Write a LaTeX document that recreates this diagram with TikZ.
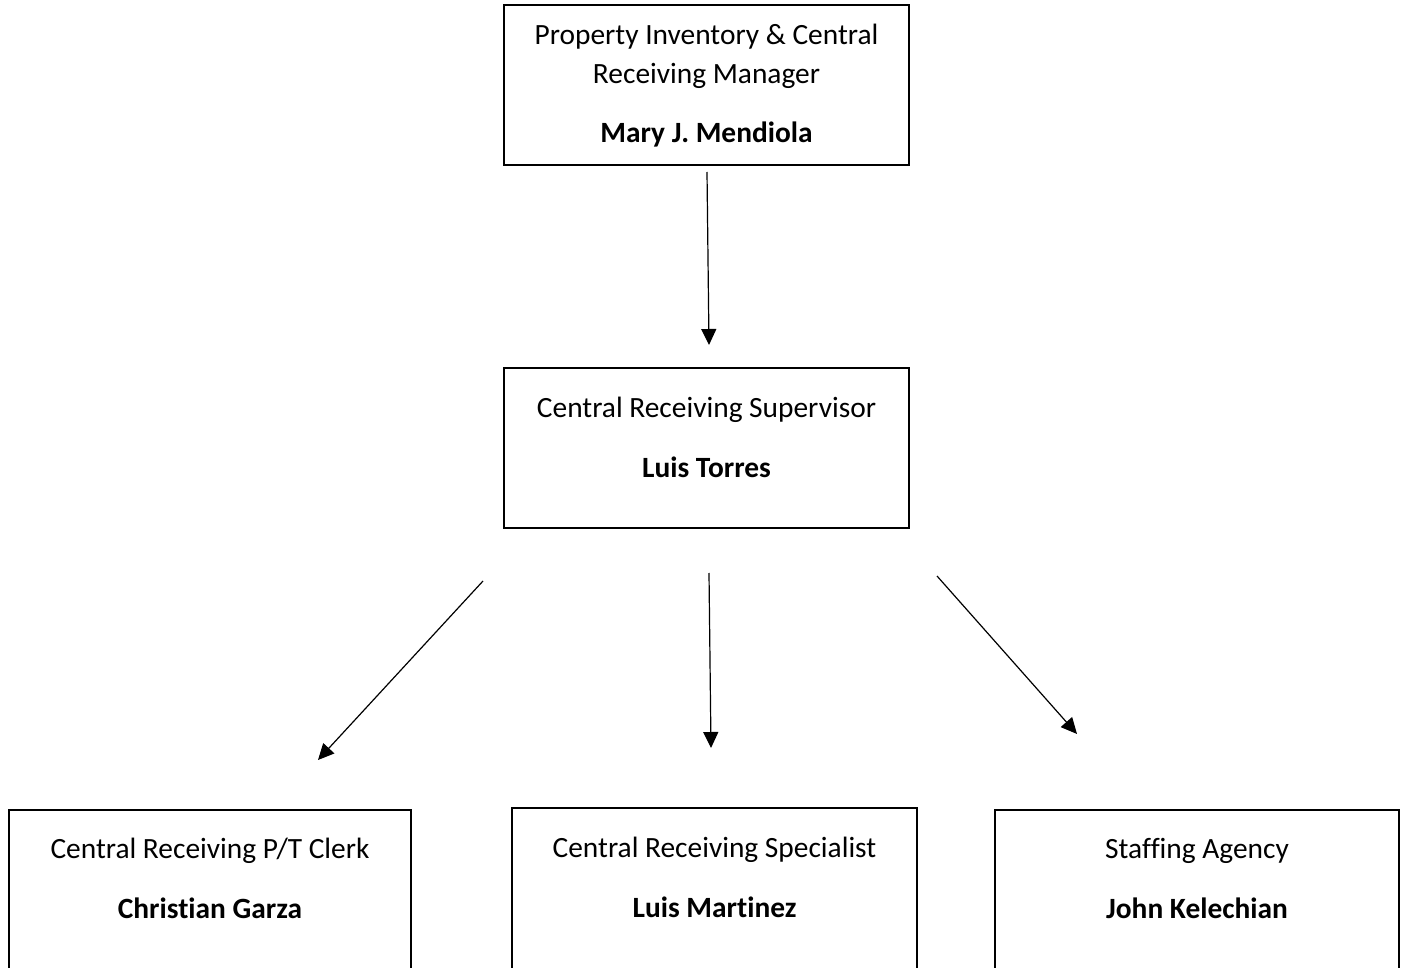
\documentclass[tikz,border=0pt]{standalone}
\usepackage{fontspec}
\setmainfont[Ligatures=NoCommon]{Carlito}
\usetikzlibrary{arrows.meta}
\begin{document}
\begin{tikzpicture}[x=1pt,y=-1pt,
  box/.style={draw,line width=2pt,rectangle,inner sep=0pt,outer sep=0pt},
  role/.style={anchor=base,inner sep=0pt,font=\fontsize{29.4}{39}\selectfont},
  person/.style={anchor=base,inner sep=0pt,font=\fontsize{29.4}{39}\selectfont\bfseries},
  link/.style={line width=1.2pt,-{Triangle[length=16pt,width=15pt]}}]
\useasboundingbox (0,0) rectangle (1403,968);
\clip (0,0) rectangle (1403,968);
\fill[white] (0,0) rectangle (1403,968);
% boxes
\node[box,minimum width=405pt,minimum height=160pt] (mgr) at (706.5,85) {};
\node[box,minimum width=405pt,minimum height=160pt] (sup) at (706.5,448) {};
\node[box,minimum width=402pt,minimum height=170pt] (clerk) at (210,895) {};
\node[box,minimum width=405pt,minimum height=170pt] (spec) at (714.5,893) {};
\node[box,minimum width=404pt,minimum height=170pt] (agency) at (1197,895) {};
% texts
\node[role] (mgrt1) at ([yshift=-40pt]mgr.north) {Property Inventory \& Central};
\node[role] (mgrt2) at ([yshift=-79pt]mgr.north) {Receiving Manager};
\node[person] (mgrn) at ([yshift=-138pt]mgr.north) {Mary J. Mendiola};
\node[role] (supt) at ([yshift=-49pt]sup.north) {Central Receiving Supervisor};
\node[person] (supn) at ([yshift=-109pt]sup.north) {Luis Torres};
\node[role] (clerkt) at ([yshift=-48pt]clerk.north) {Central Receiving P/T Clerk};
\node[person] (clerkn) at ([yshift=-108pt]clerk.north) {Christian Garza};
\node[role] (spect) at ([yshift=-49pt]spec.north) {Central Receiving Specialist};
\node[person] (specn) at ([yshift=-109pt]spec.north) {Luis Martinez};
\node[role] (agencyt) at ([yshift=-48pt]agency.north) {Staffing Agency};
\node[person] (agencyn) at ([yshift=-108pt]agency.north) {John Kelechian};
% arrow ends
\coordinate (a1s) at (707,172);
\coordinate (a1e) at (709,345);
\coordinate (a2s) at (483,581);
\coordinate (a2e) at (318,760);
\coordinate (a3s) at (709,573);
\coordinate (a3e) at (711,748);
\coordinate (a4s) at (937,576);
\coordinate (a4e) at (1077,734);
\draw[link] (a1s) -- (a1e);
\draw[link] (a2s) -- (a2e);
\draw[link] (a3s) -- (a3e);
\draw[link] (a4s) -- (a4e);
\end{tikzpicture}
\end{document}
